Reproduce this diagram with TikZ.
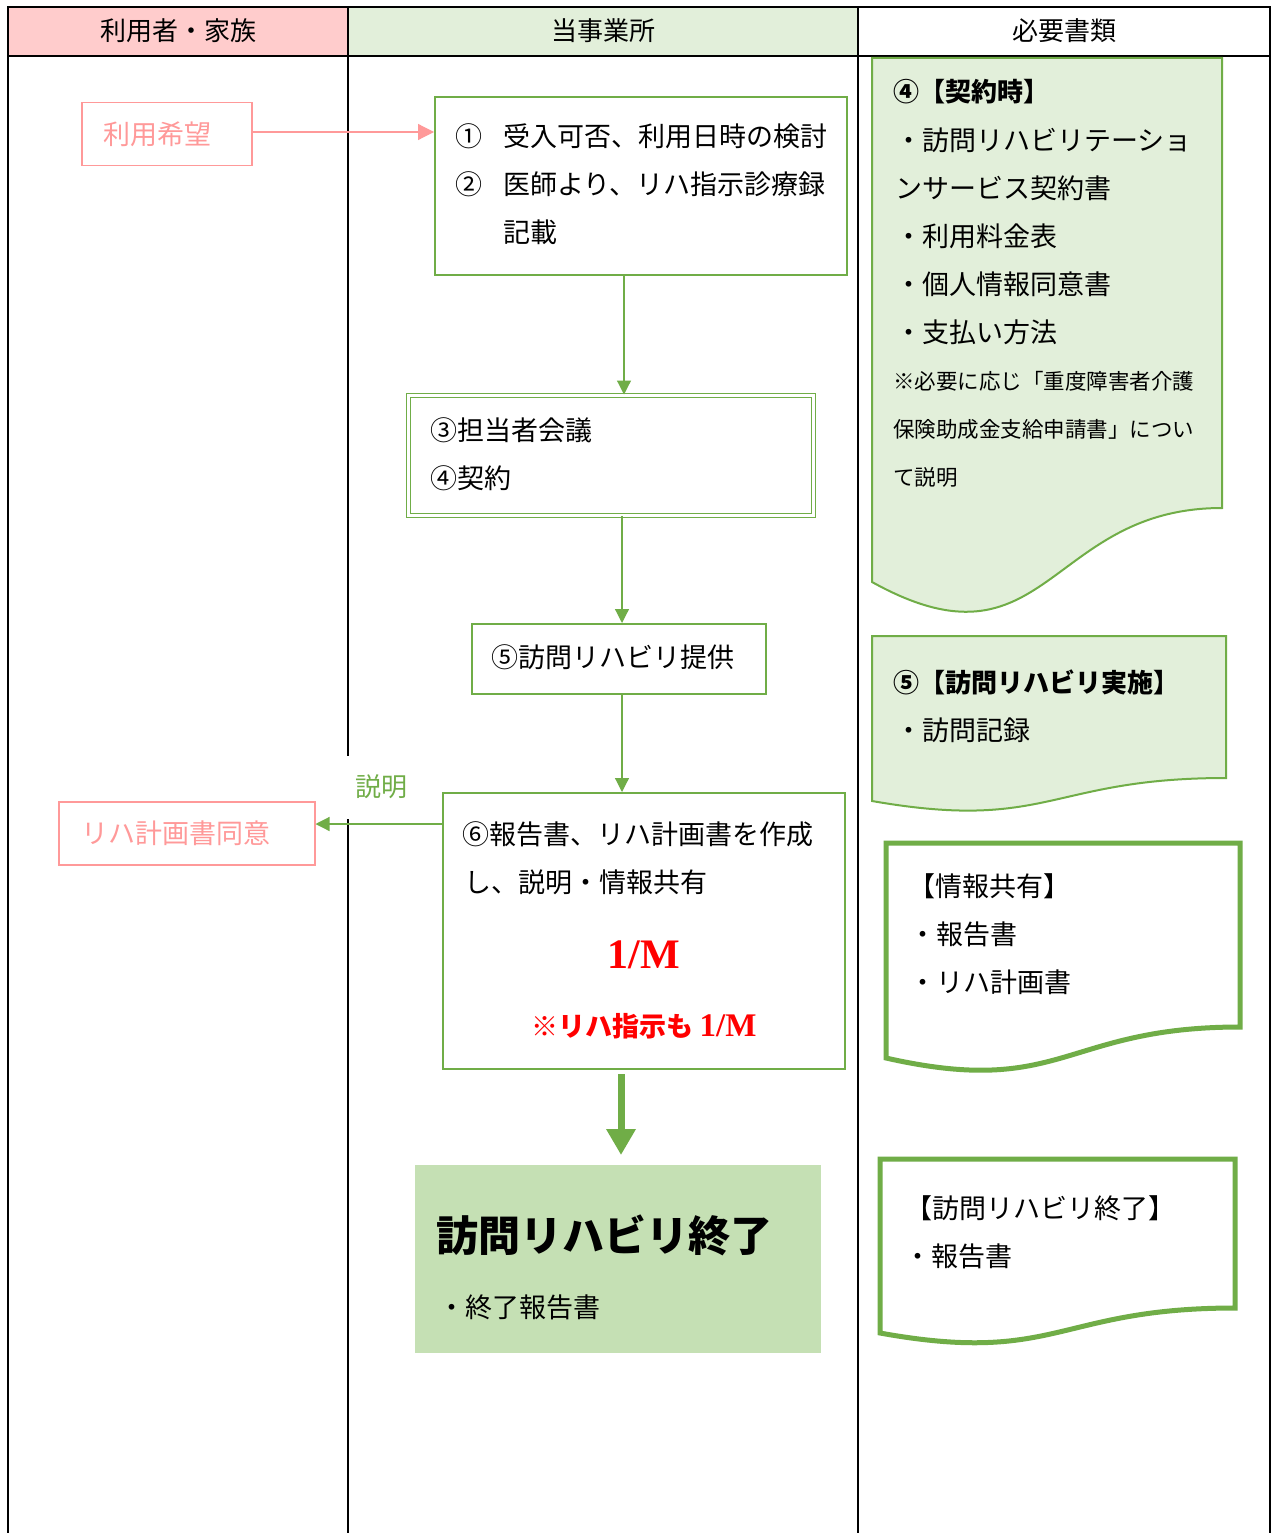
\documentclass[tikz,border=0pt]{standalone}
\usepackage{fontspec}
\setmainfont{Noto Sans CJK JP}
\newfontfamily\serifnum{Liberation Serif}
\usetikzlibrary{arrows.meta}
\definecolor{lgreen}{HTML}{70AD47}
\definecolor{paleg}{HTML}{E2EFDA}
\definecolor{endg}{HTML}{C5E0B4}
\definecolor{pinkb}{HTML}{FF9999}
\definecolor{pinkh}{HTML}{FFCCCC}
\newcommand\fsz[1]{\fontsize{#1}{#1}\selectfont}
\begin{document}
\begin{tikzpicture}[x=1pt,y=-1pt,
  tline/.style={line width=1.6pt, black},
  pinkbox/.style={draw=pinkb, line width=1.5pt, text=pinkb, minimum height=63pt, anchor=north west, inner sep=0pt, font=\fsz{27}},
  gbox/.style={draw=lgreen, line width=2pt, fill=white, anchor=north west, inner sep=0pt},
  txt/.style={anchor=west, inner sep=0pt, font=\fsz{27}},
  smalltxt/.style={anchor=west, inner sep=0pt, font=\fsz{21.5}},
  hdr/.style={inner sep=0pt, font=\fsz{26}},
  garrow/.style={draw=lgreen, line width=1.2pt, -{Triangle[length=14pt,width=14pt]}},
  parrow/.style={draw=pinkb, line width=1.2pt, -{Triangle[length=16pt,width=16pt]}},
  bigarrow/.style={draw=lgreen, line width=7pt, -{Triangle[length=26pt,width=28pt]}},
  docthin/.style={draw=lgreen, line width=2pt, fill=paleg},
  docthick/.style={draw=lgreen, line width=5pt, fill=white}
]
\useasboundingbox (0,0) rectangle (1272,1533);
\fill[white] (0,0) rectangle (1272,1533);

% table
\fill[pinkh] (8,7) rectangle (348,56);
\fill[paleg] (348,7) rectangle (858,56);
\draw[tline] (8,1533) -- (8,7) -- (1270,7) -- (1270,1533);
\draw[tline] (8,56) -- (1270,56);
\draw[tline] (348,7) -- (348,1533);
\draw[tline] (858,7) -- (858,1533);
\node[hdr] (h1) at (178,31) {利用者・家族};
\node[hdr] (h2) at (603,31) {当事業所};
\node[hdr] (h3) at (1064,31) {必要書類};

% left column boxes
\node[pinkbox, minimum width=170pt] (p1) at (81,102) {};
\node[anchor=west, inner sep=0pt, text=pinkb, font=\fsz{27}] (p1t) at (103,134) {利用希望};
\node[pinkbox, minimum width=256pt] (p2) at (58,801) {};
\node[anchor=west, inner sep=0pt, text=pinkb, font=\fsz{27}] (p2t) at (81,833) {リハ計画書同意};

% middle column boxes
\node[gbox, minimum width=412pt, minimum height=178pt] (b1) at (434,96) {};
\node[txt] (t1a) at (455,136) {①\hspace{21pt}受入可否、利用日時の検討};
\node[txt] (t1b) at (455,184) {②\hspace{21pt}医師より、リハ指示診療録};
\node[txt] (t1c) at (503,232) {記載};

\node[draw=lgreen, line width=1.4pt, double, double distance=2.6pt, fill=white, anchor=north west, inner sep=0pt, minimum width=405pt, minimum height=120pt] (b2) at (407.5,394.5) {};
\node[txt] (t2a) at (430,430) {③担当者会議};
\node[txt] (t2b) at (430,478) {④契約};

\node[gbox, minimum width=294pt, minimum height=70pt] (b3) at (471,623) {};
\node[txt] (t3) at (491,657) {⑤訪問リハビリ提供};

\node[gbox, minimum width=402pt, minimum height=276pt] (b4) at (442,792) {};
\node[txt] (t4a) at (462,834) {⑥報告書、リハ計画書を作成};
\node[txt] (t4b) at (464,882) {し、説明・情報共有};
\node[inner sep=0pt, text=red, font=\fsz{42}\serifnum\bfseries] (t4c) at (644,955) {1/M};
\node[inner sep=0pt, text=red, font=\fsz{27}\bfseries] (t4d) at (644,1026) {※リハ指示も {\fsz{33}\serifnum 1/M}};

\node[fill=endg, anchor=north west, inner sep=0pt, minimum width=406pt, minimum height=188pt] (b5) at (415,1165) {};
\node[anchor=west, inner sep=0pt, font=\fsz{42}\bfseries] (t5a) at (436,1235) {訪問リハビリ終了};
\node[txt] (t5b) at (438,1307) {・終了報告書};

% connectors
\draw[parrow] (p1.east |- 0,132) -- (b1.west |- 0,132);
\draw[garrow] (624,0 |- b1.south) -- (624,0 |- b2.north);
\draw[garrow] (622,0 |- b2.south) -- (622,0 |- b3.north);
\draw[garrow] (622,0 |- b3.south) -- (622,0 |- b4.north);
\draw[garrow] (b4.west |- 0,824) -- (p2.east |- 0,824);
\draw[bigarrow, shorten <=4pt, shorten >=10pt] (621,0 |- b4.south) -- (621,0 |- b5.north);
\node[fill=white, text=lgreen, inner sep=0pt, minimum width=82pt, minimum height=63pt, font=\fsz{26}] (lbl) at (381,787) {説明};

% right column documents
\draw[docthin] (872,58) -- (1222,58) -- (1222,508) .. controls (1047,508) and (1047,679) .. (872,582) -- cycle;
\node[anchor=west, inner sep=0pt, font=\fsz{26}\bfseries] (d1a) at (893,92) {④【契約時】};
\node[txt] (d1b) at (895,140) {・訪問リハビリテーショ};
\node[txt] (d1c) at (895,188) {ンサービス契約書};
\node[txt] (d1d) at (895,236) {・利用料金表};
\node[txt] (d1e) at (895,284) {・個人情報同意書};
\node[txt] (d1f) at (895,332) {・支払い方法};
\node[smalltxt] (d1g) at (893,381) {※必要に応じ「重度障害者介護};
\node[smalltxt] (d1h) at (893,429) {保険助成金支給申請書」につい};
\node[smalltxt] (d1i) at (893,477) {て説明};

\draw[docthin] (872,636) -- (1226,636) -- (1226,778) .. controls (1049,778) and (1049,832) .. (872,801) -- cycle;
\node[anchor=west, inner sep=0pt, font=\fsz{26}\bfseries] (d2a) at (893,682) {⑤【訪問リハビリ実施】};
\node[txt] (d2b) at (895,730) {・訪問記録};

\draw[docthick] (886,843) -- (1240,843) -- (1240,1027) .. controls (1063,1027) and (1063,1098) .. (886,1058) -- cycle;
\node[txt] (d3a) at (908,886) {【情報共有】};
\node[txt] (d3b) at (909,934) {・報告書};
\node[txt] (d3c) at (909,982) {・リハ計画書};

\draw[docthick] (880,1159) -- (1235,1159) -- (1235,1308) .. controls (1057,1308) and (1057,1365) .. (880,1333) -- cycle;
\node[txt] (d4a) at (905,1208) {【訪問リハビリ終了】};
\node[txt] (d4b) at (904,1256) {・報告書};
\end{tikzpicture}
\end{document}
